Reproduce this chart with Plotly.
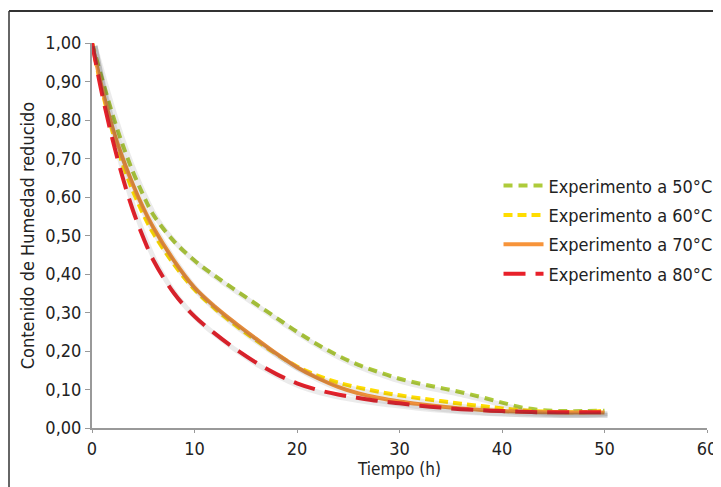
import plotly.graph_objects as go

tiempo = [0, 1, 2, 3, 4, 5, 6, 8, 10, 12, 14, 16, 18, 20, 22, 24, 26, 28, 30,
          32, 34, 36, 38, 40, 42, 44, 46, 48, 50]

exp_50 = [1.00, 0.905, 0.815, 0.735, 0.665, 0.605, 0.553, 0.485, 0.435, 0.395, 0.358,
          0.322, 0.286, 0.25, 0.217, 0.188, 0.164, 0.145, 0.128, 0.115, 0.104,
          0.093, 0.08, 0.066, 0.053, 0.046, 0.044, 0.044, 0.045]
exp_60 = [1.00, 0.875, 0.77, 0.685, 0.615, 0.555, 0.505, 0.425, 0.36, 0.31, 0.267,
          0.228, 0.192, 0.16, 0.136, 0.118, 0.105, 0.094, 0.085, 0.077, 0.07,
          0.063, 0.057, 0.051, 0.046, 0.043, 0.041, 0.041, 0.045]
exp_70 = [1.00, 0.88, 0.78, 0.70, 0.632, 0.572, 0.52, 0.435, 0.365, 0.315, 0.272,
          0.232, 0.193, 0.158, 0.13, 0.107, 0.09, 0.078, 0.069, 0.062, 0.056,
          0.051, 0.047, 0.044, 0.042, 0.041, 0.04, 0.04, 0.04]
exp_80 = [1.00, 0.865, 0.75, 0.65, 0.565, 0.495, 0.435, 0.35, 0.29, 0.245, 0.205,
          0.17, 0.14, 0.116, 0.099, 0.087, 0.078, 0.07, 0.064, 0.058, 0.053,
          0.049, 0.046, 0.044, 0.042, 0.041, 0.041, 0.041, 0.041]

series = [
    ("Experimento a 50°C", exp_50, "#AECB3A", "9px,6px"),
    ("Experimento a 60°C", exp_60, "#FFDD00", "9px,5px"),
    ("Experimento a 70°C", exp_70, "#F7943A", "solid"),
    ("Experimento a 80°C", exp_80, "#E8202A", "22px,10px"),
]

fig = go.Figure()
# soft drop shadows drawn on offset overlay axes
for name, vals, color, dash in series:
    fig.add_trace(go.Scatter(x=tiempo, y=vals, mode="lines", showlegend=False,
                             hoverinfo="skip", xaxis="x2", yaxis="y2",
                             line=dict(color="rgba(60,60,60,0.10)", width=5,
                                       shape="spline", smoothing=1.0)))
for i, (name, vals, color, dash) in enumerate(series):
    fig.add_trace(go.Scatter(x=tiempo, y=vals, mode="lines", name=name,
                             legendgroup=f"g{i}",
                             line=dict(color=color, width=4, dash=dash,
                                       shape="spline", smoothing=1.0)))

font_family = "Liberation Sans Narrow, DejaVu Sans Condensed, sans-serif"
px_x = 60 / 615
px_y = 1.0 / 385

# page has an 8px body margin, so the figure is sized/margined to compensate
W, H = 713, 479
ML, MT, MR = 84, 35, 14
MB = H - MT - 385

fig.update_layout(
    width=W, height=H,
    margin=dict(l=ML, r=MR, t=MT, b=MB, autoexpand=False),
    paper_bgcolor="white", plot_bgcolor="white",
    separators=",.",
    font=dict(family=font_family, size=18, color="#222"),
    showlegend=True,
    legend=dict(x=0.661, y=0.677, xanchor="left", yanchor="top",
                bgcolor="rgba(0,0,0,0)", font=dict(size=18),
                itemwidth=40, tracegroupgap=3),
    xaxis=dict(range=[0, 60], dtick=10, tickformat="d", showgrid=False,
               zeroline=False, showline=True, linecolor="#999", linewidth=2,
               ticks="outside", ticklen=3, tickcolor="#999", automargin=False,
               title=dict(text="Tiempo (h)", standoff=0, font=dict(size=17))),
    yaxis=dict(range=[0, 1.0], dtick=0.1, tickformat=".2f", showgrid=False,
               zeroline=False, showline=True, linecolor="#999", linewidth=2,
               ticks="outside", ticklen=5, tickcolor="#999", automargin=False,
               title=dict(text="Contenido de Humedad reducido", standoff=6,
                          font=dict(size=18))),
    xaxis2=dict(range=[0 - 3 * px_x, 60 - 3 * px_x], overlaying="x",
                visible=False, showgrid=False, zeroline=False),
    yaxis2=dict(range=[0 + 3 * px_y, 1.0 + 3 * px_y], overlaying="y",
                visible=False, showgrid=False, zeroline=False),
    shapes=[
        dict(type="line", xref="paper", yref="paper",
             x0=-(ML - 1) / 615, x1=-(ML - 1) / 615, y0=1 + (MT - 3) / 385, y1=-0.3,
             line=dict(color="#666", width=2)),
        dict(type="line", xref="paper", yref="paper",
             x0=-(ML - 1) / 615, x1=1.05, y0=1 + (MT - 3) / 385, y1=1 + (MT - 3) / 385,
             line=dict(color="#333", width=2)),
    ],
)

fig.write_html("out.html")
